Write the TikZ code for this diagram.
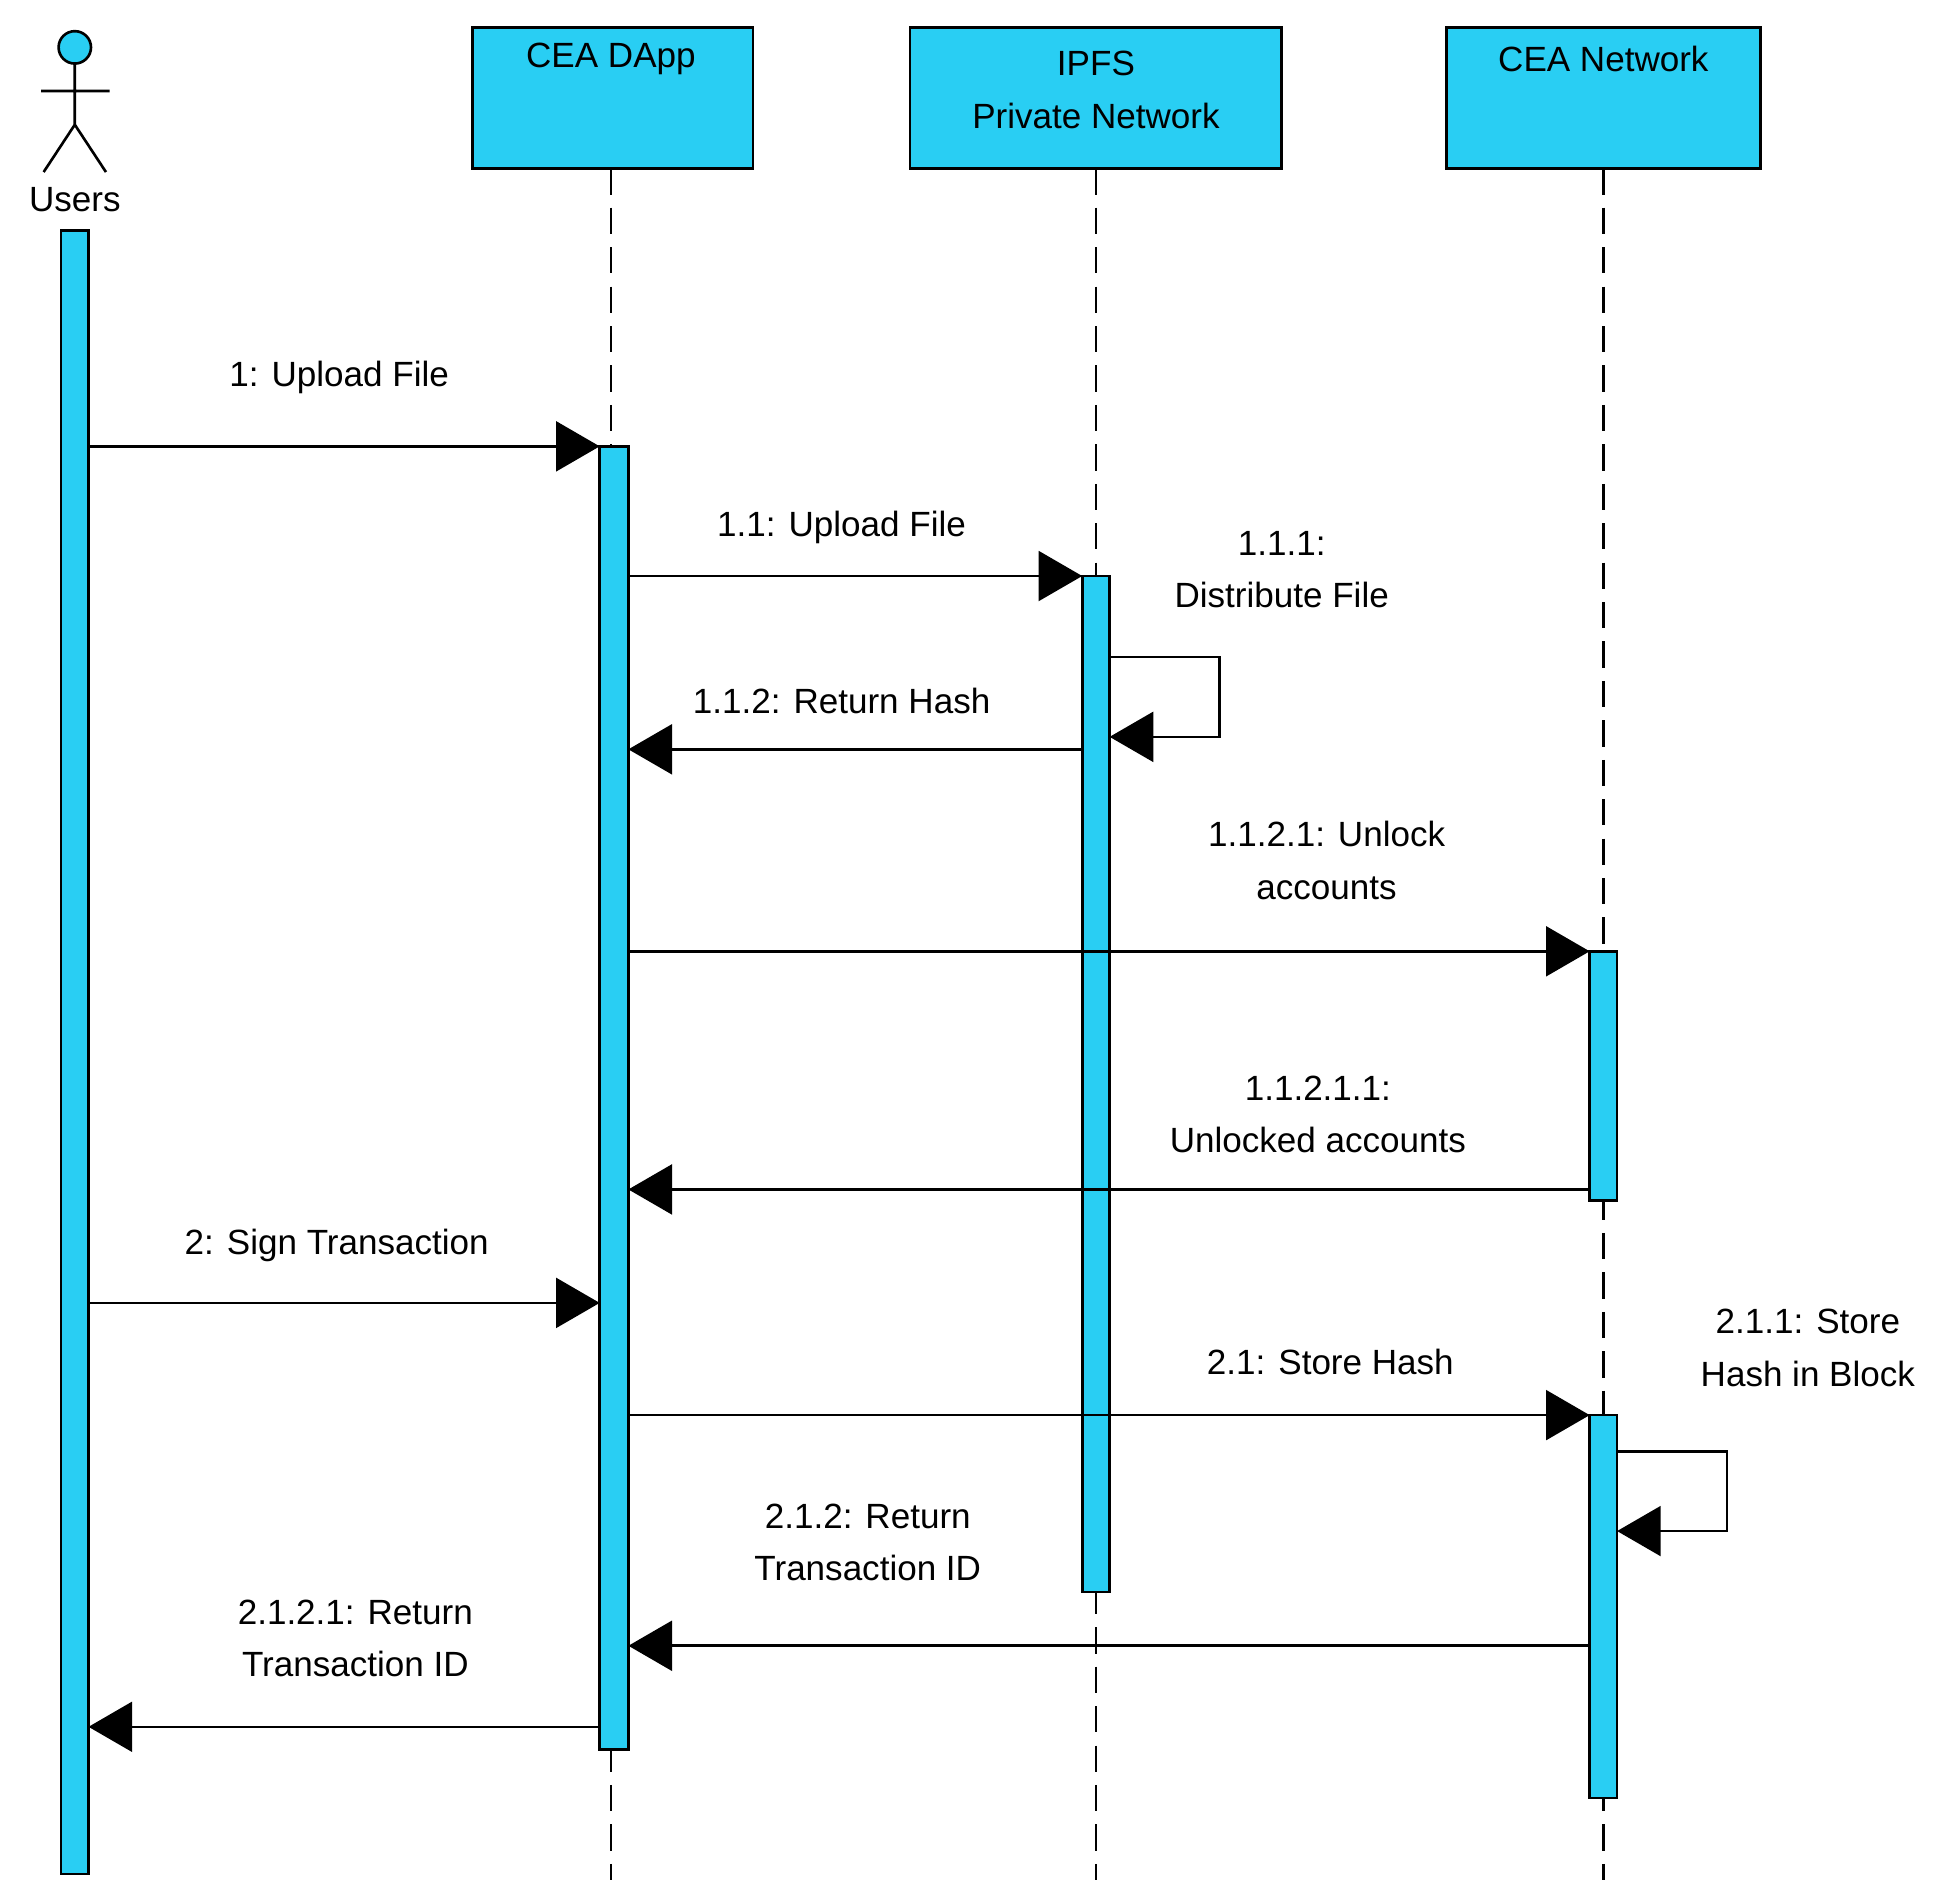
\documentclass[tikz,border=0pt]{standalone}
\usepackage{fontspec}
\setmainfont{Liberation Sans}
\usetikzlibrary{arrows.meta}
\definecolor{cy}{HTML}{29CEF3}
\begin{document}
\begin{tikzpicture}[x=0.02cm,y=-0.02cm,
  box/.style={draw,fill=cy,line width=1.2pt},
  bar/.style={draw,fill=cy,line width=1.2pt},
  life/.style={dashed,line width=1.1pt,dash pattern=on 12pt off 6pt},
  msg/.style={line width=1.2pt,-{Triangle[length=0.7cm,width=0.8cm]}},
  lbl/.style={font=\fontsize{16}{24}\selectfont,align=center,inner sep=0pt}]
\useasboundingbox (0,0) rectangle (1560,1520);
% lifelines
\draw[life] (490,135) -- (490,1508);
\draw[life] (879,135) -- (879,1508);
\draw[life] (1286,135) -- (1286,1508);
% boxes
\draw[box] (379,22) rectangle (604,135);
\node[lbl] (dapp) at (490,47) {CEA DApp};
\draw[box] (730,22) rectangle (1028,135);
\node[lbl] (ipfs) at (879,72) {IPFS\\Private Network};
\draw[box] (1160,22) rectangle (1412,135);
\node[lbl] (cean) at (1286,47) {CEA Network};
% actor
\draw[fill=cy,line width=1.2pt] (60,38) circle (13);
\draw[line width=1.2pt] (60,51) -- (60,100) (33,73) -- (88,73) (35,138) -- (60,100) -- (85,138);
\node[lbl] (users) at (60,160) {Users};
% activation bars
\draw[bar] (49,185) rectangle (71,1503);
\draw[bar] (481,358) rectangle (504,1403);
\draw[bar] (868,462) rectangle (890,1277);
\draw[bar] (1275,763) rectangle (1297,963);
\draw[bar] (1275,1135) rectangle (1297,1442);
% coordinates
\coordinate (u1) at (71,358); \coordinate (d1) at (481,358);
\coordinate (d2) at (504,462); \coordinate (i2) at (868,462);
\coordinate (i3) at (868,601); \coordinate (d3) at (504,601);
\coordinate (d4) at (504,763); \coordinate (c4) at (1275,763);
\coordinate (c5) at (1275,954); \coordinate (d5) at (504,954);
\coordinate (u6) at (71,1045); \coordinate (d6) at (481,1045);
\coordinate (d7) at (504,1135); \coordinate (c7) at (1275,1135);
\coordinate (c8) at (1275,1320); \coordinate (d8) at (504,1320);
\coordinate (d9) at (481,1385); \coordinate (u9) at (71,1385);
% messages
\draw[msg] (u1) -- (d1);
\node[lbl] at (272,303) {1: Upload File};
\draw[msg] (d2) -- (i2);
\node[lbl] at (675,423) {1.1: Upload File};
\draw[msg] (890,527) -- (978,527) -- (978,591) -- (890,591);
\node[lbl] at (1028,457) {1.1.1:\\Distribute File};
\draw[msg] (i3) -- (d3);
\node[lbl] at (675,562) {1.1.2: Return Hash};
\draw[msg] (d4) -- (c4);
\node[lbl] at (1064,690) {1.1.2.1: Unlock\\accounts};
\draw[msg] (c5) -- (d5);
\node[lbl] at (1057,894) {1.1.2.1.1:\\Unlocked accounts};
\draw[msg] (u6) -- (d6);
\node[lbl] at (270,999) {2: Sign Transaction};
\draw[msg] (d7) -- (c7);
\node[lbl] at (1067,1092) {2.1: Store Hash};
\draw[msg] (1297,1164) -- (1385,1164) -- (1385,1228) -- (1297,1228);
\node[lbl] at (1450,1081) {2.1.1: Store\\Hash in Block};
\draw[msg] (c8) -- (d8);
\node[lbl] at (696,1237) {2.1.2: Return\\Transaction ID};
\draw[msg] (d9) -- (u9);
\node[lbl] at (285,1314) {2.1.2.1: Return\\Transaction ID};
\end{tikzpicture}
\end{document}
